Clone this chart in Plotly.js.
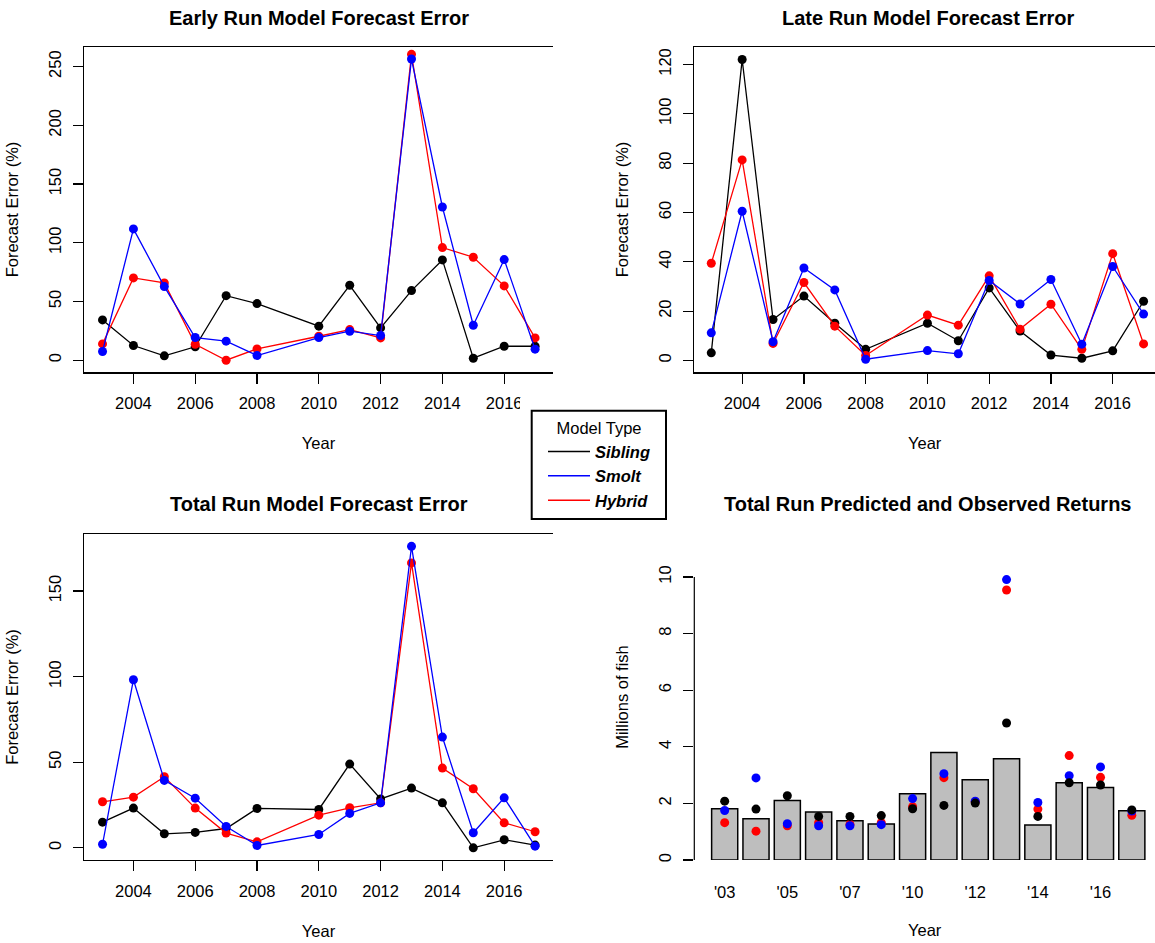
<!DOCTYPE html>
<html>
<head>
<meta charset="utf-8">
<script src="https://cdn.plot.ly/plotly-3.0.1.min.js"></script>
<style>html,body{margin:0;padding:0;background:#fff;}#chart{width:1155px;height:943px;}</style>
</head>
<body>
<div id="chart"></div>
<script>
// ---- data ----
const years = [2003, 2004, 2005, 2006, 2007, 2008, 2010, 2011, 2012, 2013, 2014, 2015, 2016, 2017];

const earlySibling = [34.3, 12.5, 3.7, 11.4, 55.0, 48.2, 29.0, 63.8, 27.5, 59.3, 85.4, 1.7, 11.9, 11.9];
const earlySmolt   = [7.4, 111.8, 62.7, 19.3, 16.2, 4.0, 19.3, 24.7, 21.0, 256.5, 130.5, 29.8, 85.7, 9.4];
const earlyHybrid  = [13.9, 70.1, 65.8, 13.6, 0.0, 9.6, 20.4, 26.1, 19.0, 260.5, 95.9, 87.7, 63.3, 19.0];

const lateSibling = [3.1, 122.0, 16.6, 26.1, 15.1, 4.5, 15.1, 8.0, 29.4, 11.9, 2.2, 0.9, 3.9, 24.0];
const lateSmolt   = [11.2, 60.5, 7.6, 37.5, 28.6, 0.5, 4.0, 2.7, 32.4, 22.9, 32.8, 6.6, 38.1, 18.8];
const lateHybrid  = [39.4, 81.3, 6.9, 31.6, 13.9, 2.0, 18.4, 14.3, 34.3, 12.7, 22.8, 4.5, 43.3, 6.7];

const totalSibling = [15.0, 23.2, 8.2, 9.0, 11.3, 23.0, 22.4, 48.9, 28.6, 34.9, 26.3, 0.0, 4.7, 1.6];
const totalSmolt   = [2.1, 98.2, 39.4, 29.0, 12.5, 1.4, 7.8, 20.1, 26.3, 176.1, 64.7, 8.8, 29.2, 1.0];
const totalHybrid  = [26.9, 29.6, 41.5, 23.2, 8.6, 3.5, 19.1, 23.4, 26.3, 166.4, 46.6, 34.5, 14.6, 9.4];

const observedReturns = [1.81, 1.46, 2.10, 1.70, 1.39, 1.27, 2.34, 3.80, 2.84, 3.58, 1.24, 2.73, 2.56, 1.74];
const predSibling = [2.08, 1.80, 2.27, 1.54, 1.54, 1.57, 1.81, 1.93, 2.01, 4.84, 1.54, 2.73, 2.65, 1.77];
const predSmolt   = [1.75, 2.90, 1.28, 1.21, 1.21, 1.25, 2.17, 3.05, 2.08, 9.91, 2.03, 2.98, 3.29, 1.73];
const predHybrid  = [1.32, 1.02, 1.21, 1.32, 1.26, 1.32, 1.88, 2.91, 2.06, 9.54, 1.80, 3.69, 2.92, 1.58];

const barLabels = ["'03", "", "'05", "", "'07", "", "'10", "", "'12", "", "'14", "", "'16", ""];
const yearTicks = [2004, 2006, 2008, 2010, 2012, 2014, 2016];
const modelNames = ["Sibling", "Smolt", "Hybrid"];
const panelTitles = ["Early Run Model Forecast Error", "Late Run Model Forecast Error",
                     "Total Run Model Forecast Error", "Total Run Predicted and Observed Returns"];

// ---- styling ----
const FONT = "Liberation Sans, Arial, Helvetica, sans-serif";
const FS = 16.5;
const COL = {Sibling: "#000000", Smolt: "#0000FF", Hybrid: "#FF0000"};
const W = 1155, H = 943;
const px = v => v / W;
const py = v => 1 - v / H;

function series(x, y, name, xa, ya) {
  return {
    x: x, y: y, type: "scatter", mode: "lines+markers", name: name,
    xaxis: xa, yaxis: ya, showlegend: false, cliponaxis: false,
    line: {color: COL[name], width: 1.3},
    marker: {color: COL[name], size: 9}
  };
}
function dots(x, y, name) {
  return {
    x: x, y: y, type: "scatter", mode: "markers", name: name,
    xaxis: "x4", yaxis: "y4", showlegend: false, cliponaxis: false,
    marker: {color: COL[name], size: 9}
  };
}

const data = [
  series(years, earlySibling, "Sibling", "x", "y"),
  series(years, earlyHybrid, "Hybrid", "x", "y"),
  series(years, earlySmolt, "Smolt", "x", "y"),

  series(years, lateSibling, "Sibling", "x2", "y2"),
  series(years, lateHybrid, "Hybrid", "x2", "y2"),
  series(years, lateSmolt, "Smolt", "x2", "y2"),

  series(years, totalSibling, "Sibling", "x3", "y3"),
  series(years, totalHybrid, "Hybrid", "x3", "y3"),
  series(years, totalSmolt, "Smolt", "x3", "y3"),

  {x: years, y: observedReturns, type: "bar", name: "Observed", xaxis: "x4", yaxis: "y4",
   showlegend: false, marker: {color: "#BEBEBE", line: {color: "#000000", width: 1.5}}},
  dots(years, predHybrid, "Hybrid"),
  dots(years, predSmolt, "Smolt"),
  dots(years, predSibling, "Sibling")
];
// legend-only entries (lines, as in the reference legend)
modelNames.forEach(n => data.push({
  x: [null], y: [null], type: "scatter", mode: "lines", name: n,
  xaxis: "x", yaxis: "y", showlegend: true, line: {color: COL[n], width: 1.5}
}));

const tickFont = {family: FONT, size: FS, color: "#000"};
const titleFont = {family: FONT, size: FS, color: "#000"};

function xYear(domain, range, anchor) {
  return {
    domain: domain, range: range, anchor: anchor, type: "linear",
    tickmode: "array", tickvals: yearTicks, ticks: "outside", ticklen: 10,
    tickwidth: 1.2, tickcolor: "#000", showline: true, linecolor: "#000", linewidth: 1.2,
    mirror: true, showgrid: false, zeroline: false, tickfont: tickFont,
    ticklabelstandoff: 6,
    title: {text: "Year", font: titleFont, standoff: 26}
  };
}
function yErr(domain, range, anchor, dtick) {
  return {
    domain: domain, range: range, anchor: anchor, dtick: dtick, tick0: 0,
    ticks: "outside", ticklen: 10, tickwidth: 1.2, tickcolor: "#000",
    showline: true, linecolor: "#000", linewidth: 1.2, mirror: false,
    showgrid: false, zeroline: false, tickangle: -90, tickfont: tickFont,
    ticklabelstandoff: 6,
    title: {text: "Forecast Error (%)", font: titleFont, standoff: 22}
  };
}

const dxL = [px(84.3), px(552.7)];
const dxR = [px(694.3), 1];
const dyT = [py(372.3), py(46.7)];
const dyB = [py(860), py(534)];

const layout = {
  width: W, height: H,
  margin: {l: 0, r: 0, t: 0, b: 0},
  paper_bgcolor: "#fff", plot_bgcolor: "#fff",
  font: {family: FONT, size: FS, color: "#000"},
  bargap: 1 - 1 / 1.2,
  xaxis: xYear(dxL, [2002.41, 2017.57], "y"),
  yaxis: yErr(dyT, [-10.3, 267.0], "x", 50),
  xaxis2: xYear(dxR, [2002.45, 2017.37], "y2"),
  yaxis2: yErr(dyT, [-4.8, 127.2], "x2", 20),
  xaxis3: xYear(dxL, [2002.41, 2017.57], "y3"),
  yaxis3: yErr(dyB, [-7.1, 183.3], "x3", 50),
  xaxis4: {
    domain: dxR, anchor: "y4", type: "category", range: [-0.97, 13.74],
    tickmode: "array", tickvals: years, ticktext: barLabels, ticks: "",
    showline: false, showgrid: false, zeroline: false, tickfont: tickFont,
    ticklabelstandoff: 20,
    title: {text: "Year", font: titleFont, standoff: 24}
  },
  yaxis4: {
    domain: dyB, anchor: "x4", range: [0, 11.52], tick0: 0, dtick: 2,
    ticks: "outside", ticklen: 10, tickwidth: 1.2, tickcolor: "#000",
    showline: false, showgrid: false, zeroline: false, tickangle: -90, tickfont: tickFont,
    ticklabelstandoff: 6,
    title: {text: "Millions of fish", font: titleFont, standoff: 22}
  },
  shapes: [
    // y-axis line of the bar panel, spanning the labelled ticks only
    {type: "line", xref: "x4 domain", yref: "y4", x0: 0, x1: 0, y0: 0, y1: 10,
     line: {color: "#000", width: 1.2}},
    // legend panel background and frame
    {type: "rect", xref: "paper", yref: "paper", layer: "above",
     x0: px(520), x1: px(678), y0: py(521), y1: py(398),
     fillcolor: "#fff", line: {width: 0}},
    {type: "rect", xref: "paper", yref: "paper", layer: "above",
     x0: px(531.7), x1: px(666), y0: py(519), y1: py(410.7),
     fillcolor: "#fff", line: {color: "#000", width: 2}}
  ],
  annotations: [
    {xref: "paper", yref: "paper", x: (dxL[0] + dxL[1]) / 2, y: py(18)},
    {xref: "paper", yref: "paper", x: (dxR[0] + px(1161)) / 2, y: py(18)},
    {xref: "paper", yref: "paper", x: (dxL[0] + dxL[1]) / 2, y: py(504)},
    {xref: "paper", yref: "paper", x: (dxR[0] + px(1161)) / 2, y: py(504)}
  ].map((a, i) => Object.assign(a, {
    text: panelTitles[i], showarrow: false, xanchor: "center", yanchor: "middle",
    font: {family: FONT, size: 20, weight: "bold", color: "#000"}
  })),
  showlegend: true,
  legend: {
    x: px(543), y: py(412.7), xanchor: "left", yanchor: "top",
    bgcolor: "rgba(0,0,0,0)", borderwidth: 0,
    itemwidth: 42, tracegroupgap: 0,
    font: {family: FONT, size: FS, weight: "bold", style: "italic", color: "#000"},
    title: {text: "Model Type", side: "top center",
            font: {family: FONT, size: FS, weight: "normal", style: "normal", color: "#000"}}
  }
};

Plotly.newPlot("chart", data, layout, {displayModeBar: false, staticPlot: true});
</script>
</body>
</html>
